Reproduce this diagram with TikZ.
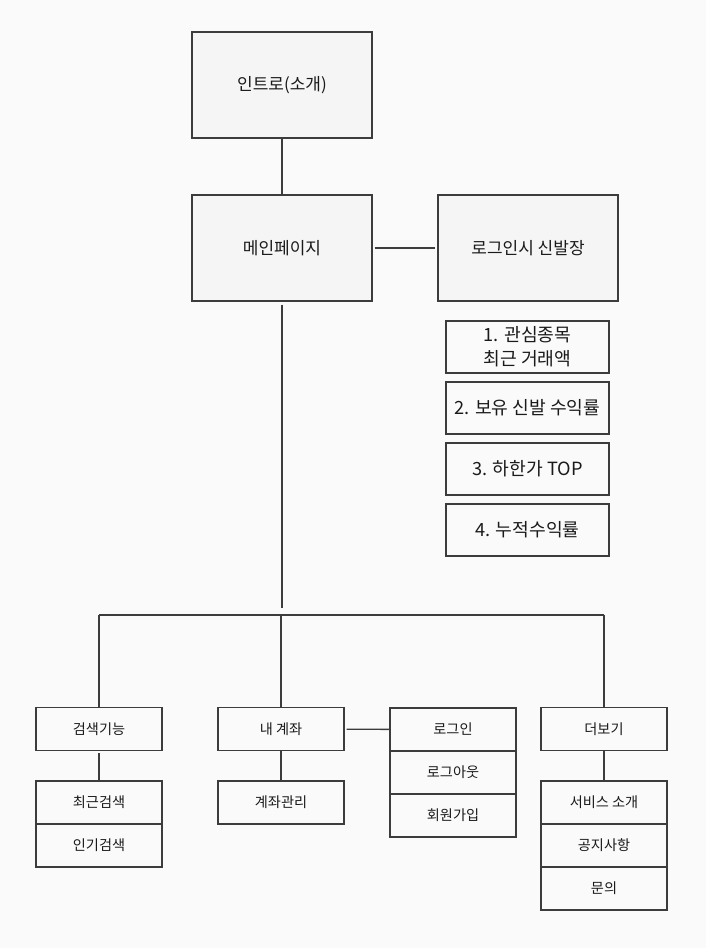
\documentclass[tikz,border=0pt]{standalone}
\usepackage{fontspec}
\newfontfamily\kr{Noto Sans CJK KR}
\definecolor{bgcol}{HTML}{FAFAFA}
\definecolor{boxfill}{HTML}{F5F5F5}
\definecolor{edgecol}{HTML}{3C3C3C}
\definecolor{textcol}{HTML}{1A1A1A}
\begin{document}
\begin{tikzpicture}[x=1pt, y=-1pt,
	every node/.style={text=textcol},
	pagebox/.style={draw=edgecol, line width=1.4pt, fill=boxfill, minimum width=180pt, minimum height=106pt, inner sep=0pt, font=\kr\fontsize{17}{20}\selectfont},
	listbox/.style={draw=edgecol, line width=1.4pt, fill=bgcol, minimum width=163pt, minimum height=52pt, inner sep=0pt, align=center, font=\kr\fontsize{18.2}{24}\selectfont},
	menubox/.style={draw=edgecol, line width=1.4pt, fill=bgcol, minimum width=126pt, minimum height=43pt, inner sep=0pt, font=\kr\fontsize{14.2}{17}\selectfont},
	link/.style={draw=edgecol, line width=1.4pt}]
		\useasboundingbox[fill=bgcol] (0,0) rectangle (706,948);
		% pages
		\node[pagebox] (intro) at (282,85) {인트로(소개)};
		\node[pagebox] (main) at (282,248) {메인페이지};
		\node[pagebox] (shoes) at (528,248) {로그인시 신발장};
		\draw[link] (intro) -- (main);
		\draw[link, shorten <=2pt, shorten >=2pt] (main) -- (shoes);
		
		% main page contents
		\node[listbox] (list1) at (527.5,347) {1. 관심종목\\최근 거래액};
		\node[listbox] (list2) at (527.5,408) {2. 보유 신발 수익률};
		\node[listbox] (list3) at (527.5,469) {3. 하한가 TOP};
		\node[listbox] (list4) at (527.5,530) {4. 누적수익률};
		
		% menu bar
		\coordinate (split) at (282,608);
		\coordinate (busL) at (99,615);
		\coordinate (busM) at (281,615);
		\coordinate (busR) at (604,615);
		\draw[link, shorten <=3pt] (main) -- (split);
		\draw[link] (busL) -- (busR);
		
		% search
		\node[menubox] (search) at (99,729) {검색기능};
		\node[menubox] (recent) at (99,802.5) {최근검색};
		\node[menubox] (popular) at (99,845.5) {인기검색};
		\draw[link] (busL) -- (search);
		\draw[link, shorten <=2pt] (search) -- (recent);
		
		% my account
		\node[menubox] (account) at (281,729) {내 계좌};
		\node[menubox] (manage) at (281,802.5) {계좌관리};
		\node[menubox] (login) at (453,729.5) {로그인};
		\node[menubox] (logout) at (453,772.5) {로그아웃};
		\node[menubox] (join) at (453,815.5) {회원가입};
		\draw[link] (busM) -- (account);
		\draw[link] (account) -- (manage);
		\draw[link, shorten <=2pt] (account) -- (login);
		
		% more
		\node[menubox] (more) at (604,729) {더보기};
		\node[menubox] (service) at (604,802.5) {서비스 소개};
		\node[menubox] (notice) at (604,845.5) {공지사항};
		\node[menubox] (inquiry) at (604,888.5) {문의};
		\draw[link] (busR) -- (more);
		\draw[link] (more) -- (service);
	\end{tikzpicture}
\end{document}
